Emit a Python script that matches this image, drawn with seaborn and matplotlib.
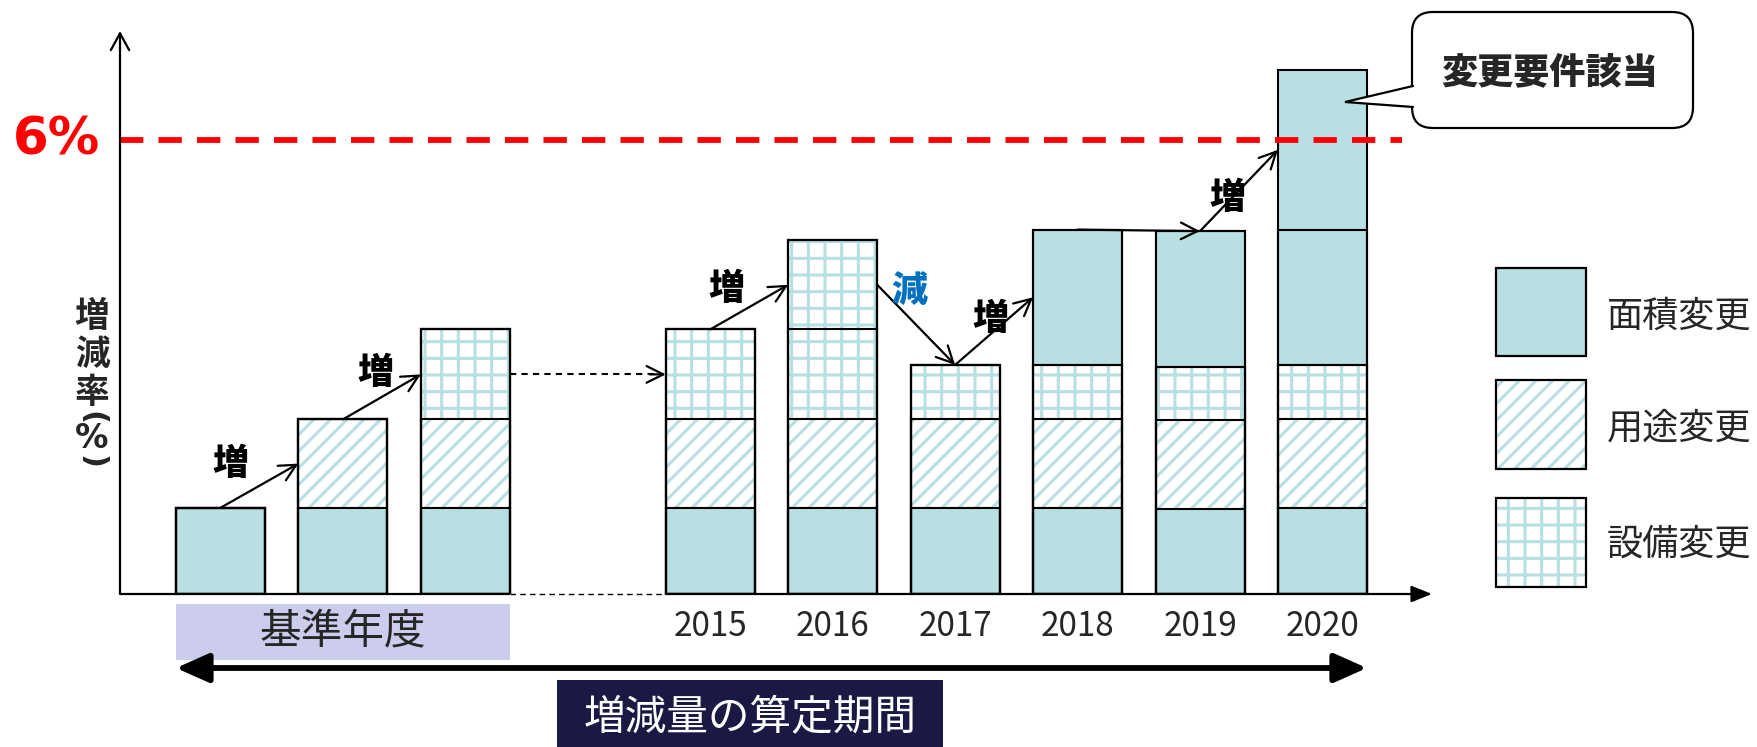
import numpy as np
import matplotlib.pyplot as plt
import seaborn as sns
from matplotlib.patches import Rectangle, FancyBboxPatch, Polygon

# bars (three base-year steps, then the calculation years)
bars = ['基準1', '基準2', '基準3', '2015', '2016', '2017', '2018', '2019', '2020']
slot_order = ['基準1', '基準2', '基準3', 'gap', '2015', '2016', '2017', '2018', '2019', '2020']
year_labels = ['', '', '', '', '2015', '2016', '2017', '2018', '2019', '2020']

# stacked segments, bottom to top (rate of change, %)
area_base = [1.14, 1.14, 1.14, 1.14, 1.14, 1.14, 1.14, 1.13, 1.14]
use_change = [0, 1.17, 1.17, 1.17, 1.17, 1.17, 1.17, 1.17, 1.17]
equip_change = [0, 0, 1.19, 1.19, 1.19, 0.72, 0.72, 0.70, 0.72]
equip_add = [0, 0, 0, 0, 1.18, 0, 0, 0, 0]
area_add = [0, 0, 0, 0, 0, 0, 1.79, 1.80, 1.79]
area_add2 = [0, 0, 0, 0, 0, 0, 0, 0, 2.11]
limit = 6.0

legend_labels = ['面積変更', '用途変更', '設備変更']

TEAL = '#b8dfe1'
W = 0.727

sns.set_style('white')
plt.rcParams['font.family'] = ['Noto Sans CJK JP', 'DejaVu Sans']
plt.rcParams['hatch.linewidth'] = 2.2

fig = plt.figure(figsize=(17.58, 7.47), dpi=100)
ax = fig.add_axes([0, 1 - 594 / 747, 1, 594 / 747])


# reference pixel -> data helpers for the decorations
def X(px):
    return (px - 220.5) / 122.44


def Y(py):
    return (594 - py) / 75.6


layers = [(area_base, 'area'), (use_change, 'use'), (equip_change, 'equip'),
          (equip_add, 'equip'), (area_add, 'area'), (area_add2, 'area')]
cum = np.cumsum([np.array(v, dtype=float) for v, _ in layers], axis=0)
styles = {'area': (TEAL, None), 'use': ('white', '//'), 'equip': ('white', '+')}

# fills, tallest first so lower segments sit on top
for lvl in reversed(range(len(layers))):
    fc, hatch = styles[layers[lvl][1]]
    sns.barplot(x=bars, y=cum[lvl], order=slot_order, color=fc, saturation=1,
                width=W, hatch=hatch, edgecolor=TEAL, linewidth=0,
                errorbar=None, ax=ax)
# outlines
for lvl in range(len(layers)):
    n = len(ax.patches)
    sns.barplot(x=bars, y=cum[lvl], order=slot_order, color='white', saturation=1,
                width=W, edgecolor='black', linewidth=1.5, errorbar=None, ax=ax)
    for p in ax.patches[n:]:
        p.set_facecolor('none')

ax.set_xlim(X(0), X(1758))
ax.set_ylim(0, Y(0))
ax.set_xlabel('')
ax.set_ylabel('')
ax.set_yticks([])
ax.set_xticks(range(len(slot_order)))
ax.set_xticklabels(year_labels, fontsize=24)
ax.tick_params(axis='x', length=0, pad=11)
for s in ax.spines.values():
    s.set_visible(False)

pos = [slot_order.index(b) for b in bars]
top = cum[-1]
hw = W / 2

# axes arrows (baseline is dashed in the gap between base year and 2015)
ax.annotate('', xy=(X(120), Y(31)), xytext=(X(120), 0),
            arrowprops=dict(arrowstyle='->,head_length=0.55,head_width=0.3', lw=1.6,
                            color='black', shrinkA=0, shrinkB=0, mutation_scale=22))
ax.plot([X(120), pos[2] + hw], [0, 0], color='black', lw=1.6, clip_on=False,
        solid_capstyle='butt')
ax.plot([pos[2] + hw, pos[3] - hw], [0, 0], color='black', lw=1.0, ls=(0, (4, 3)),
        clip_on=False)
ax.annotate('', xy=(X(1432), 0), xytext=(pos[3] - hw, 0),
            arrowprops=dict(arrowstyle='-|>,head_length=0.7,head_width=0.28', lw=1.6,
                            color='black', shrinkA=0, shrinkB=0, mutation_scale=18))

# 6% threshold
ax.plot([X(120), X(1402)], [limit, limit], color='#ff0000', lw=4.2, dashes=(4.0, 2.6),
        solid_capstyle='butt', dash_capstyle='butt')
ax.text(X(100), limit, '6%', color='#ff0000', fontsize=37, fontweight='bold',
        family='DejaVu Sans', ha='right', va='center')

# y label, stacked upright
for ch, py in zip(['増', '減', '率'], [316, 354, 393]):
    ax.text(X(92), Y(py), ch, fontsize=25, fontweight='bold', ha='center', va='center')
ax.text(X(92), Y(418), '(', fontsize=22, fontweight='bold', family='DejaVu Sans',
        rotation=-90, ha='center', va='center')
ax.text(X(92), Y(439), '%', fontsize=24, fontweight='bold', family='DejaVu Sans',
        ha='center', va='center')
ax.text(X(92), Y(462), ')', fontsize=22, fontweight='bold', family='DejaVu Sans',
        rotation=-90, ha='center', va='center')


def step(x0, y0, x1, y1):
    ax.annotate('', xy=(x1, y1), xytext=(x0, y0),
                arrowprops=dict(arrowstyle='->,head_length=0.6,head_width=0.3', lw=1.6,
                                color='black', shrinkA=0, shrinkB=0, mutation_scale=20))


def mid(lo, hi, i):
    return (cum[lo][i] + cum[hi][i]) / 2


step(pos[0], top[0], pos[1] - hw, mid(0, 1, 1))
step(pos[1], top[1], pos[2] - hw, mid(1, 2, 2))
step(pos[3], top[3], pos[4] - hw, mid(2, 3, 4))
step(pos[4] + hw, mid(2, 3, 4), pos[5], top[5])
step(pos[5], top[5], pos[6] - hw, mid(3, 4, 6))
step(pos[6], top[6], pos[7], top[7])
step(pos[7], top[7], pos[8] - hw, mid(4, 5, 8))

for ch, px, py, col in [('増', 231, 464, 'black'), ('増', 376, 373, 'black'),
                        ('増', 727, 289, 'black'), ('減', 909, 292, '#0070c0'),
                        ('増', 991, 319, 'black'), ('増', 1228, 198, 'black')]:
    ax.text(X(px), Y(py), ch, fontsize=26, fontweight='heavy', color=col,
            ha='center', va='center')

# carry-over from base year to 2015
ym = mid(1, 2, 2)
ax.plot([pos[2] + hw, pos[3] - hw - 0.1], [ym, ym], color='black', lw=1.5, ls=(0, (3, 2.5)))
step(pos[3] - hw - 0.13, ym, pos[3] - hw, ym)

# base year band
ax.add_patch(Rectangle((pos[0] - hw, Y(660)), pos[2] - pos[0] + W, Y(604) - Y(660),
                       color='#ccccec', lw=0, clip_on=False))
ax.text((pos[0] + pos[2]) / 2, Y(632), '基準年度', fontsize=30, ha='center', va='center')

# calculation period arrow
ax.annotate('', xy=(pos[8] + hw, Y(668)), xytext=(pos[0] - hw, Y(668)),
            annotation_clip=False,
            arrowprops=dict(arrowstyle='<|-|>,head_length=0.9,head_width=0.4', lw=4.2,
                            color='black', shrinkA=0, shrinkB=0, mutation_scale=22))
ax.add_patch(Rectangle((X(557), Y(747)), X(943) - X(557), Y(680) - Y(747),
                       color='#1a1944', lw=0, clip_on=False))
ax.text(X(750), Y(719), '増減量の算定期間', fontsize=30, color='white',
        ha='center', va='center', clip_on=False)

# callout
ax.add_patch(FancyBboxPatch((X(1412), Y(128)), X(1693) - X(1412), Y(12) - Y(128),
                            boxstyle='round,pad=0,rounding_size=0.17',
                            mutation_aspect=122.44 / 75.6,
                            fc='white', ec='black', lw=1.6, zorder=5))
ax.add_patch(Polygon([(X(1415), Y(86)), (X(1345), Y(102)), (X(1415), Y(107))],
                     closed=True, fc='white', ec='none', zorder=6))
ax.plot([X(1413), X(1345), X(1413)], [Y(86), Y(102), Y(107)], color='black', lw=1.6,
        zorder=7, solid_joinstyle='miter')
ax.text(X(1550), Y(72), '変更要件該当', fontsize=26, fontweight='heavy',
        ha='center', va='center', zorder=8)

# legend
for (fc, hatch), (y0, y1), lab, ly in zip(
        [styles['area'], styles['use'], styles['equip']],
        [(268, 356), (380, 469), (498, 587)], legend_labels, [317, 428, 545]):
    ax.add_patch(Rectangle((X(1496), Y(y1)), X(1586) - X(1496), Y(y0) - Y(y1),
                           fc=fc, hatch=hatch, ec=TEAL, lw=0, clip_on=False))
    ax.add_patch(Rectangle((X(1496), Y(y1)), X(1586) - X(1496), Y(y0) - Y(y1),
                           fc='none', ec='black', lw=1.6, clip_on=False))
    ax.text(X(1607), Y(ly), lab, fontsize=26, ha='left', va='center')

fig.savefig('out.png', dpi=100, facecolor='white')
